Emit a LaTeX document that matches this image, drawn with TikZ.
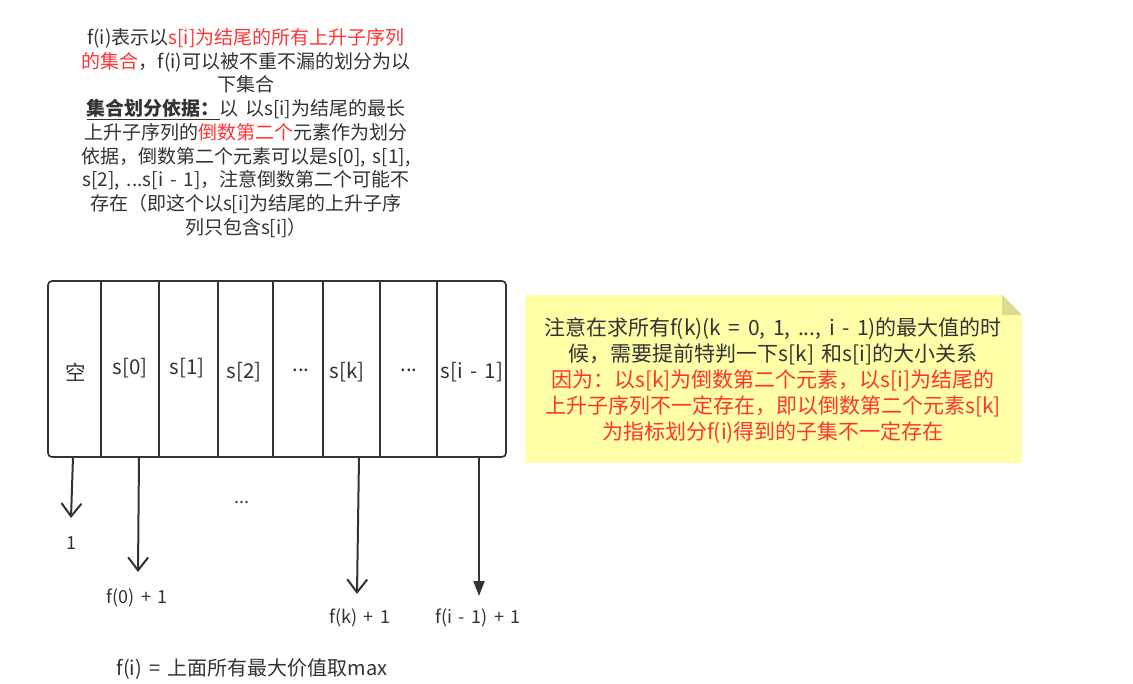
\documentclass[tikz,border=0pt]{standalone}
\usepackage{fontspec}
\setmainfont{Noto Sans CJK SC}[WordSpace=1.6]
\usetikzlibrary{arrows.meta}
\definecolor{txt}{HTML}{333333}
\definecolor{myred}{HTML}{FF3333}
\definecolor{notefill}{HTML}{FFFFA8}
\definecolor{notefold}{HTML}{DCDC8E}
\tikzset{
  boxline/.style={draw=txt, line width=1.7pt},
  celltext/.style={text=txt, font=\fontsize{20.5pt}{24pt}\selectfont, inner sep=0pt, anchor=center},
  lbl/.style={text=txt, font=\fontsize{18pt}{22pt}\selectfont, inner sep=0pt},
  openarrow/.style={draw=txt, line width=2pt, -{Straight Barb[length=13pt,width=20pt]}},
  fillarrow/.style={draw=txt, line width=2pt, -{Triangle[length=15pt,width=11pt]}},
}
\begin{document}
\begin{tikzpicture}[x=1pt,y=-1pt]
\useasboundingbox (0,0) rectangle (1133,684);
\fill[white] (0,0) rectangle (1133,684);

% top description
\node[text=txt, align=center, inner sep=0pt, font=\fontsize{19pt}{23.75pt}\selectfont] (desc) at (246,133) {%
f(i)表示以\textcolor{myred}{s[i]为结尾的所有上升子序列}\\
\textcolor{myred}{的集合}，f(i)可以被不重不漏的划分为以\\
下集合\\
\underline{\textbf{集合划分依据：}}以 以s[i]为结尾的最长\\
上升子序列的\textcolor{myred}{倒数第二个}元素作为划分\\
依据，倒数第二个元素可以是s[0], s[1],\\
s[2], ...s[i - 1]，注意倒数第二个可能不\\
存在（即这个以s[i]为结尾的上升子序\\
列只包含s[i]）};

% array box
\node[boxline, rounded corners=4pt, minimum width=458pt, minimum height=176pt, inner sep=0pt] (arr) at (277,369) {};
\foreach \x in {101,159,218,273,323,380,437}
  \draw[boxline] (\x,281) -- (\x,457);

\node[celltext] (c0) at (76,372) {空};
\node[celltext] (c1) at (130,368) {s[0]};
\node[celltext] (c2) at (187,368) {s[1]};
\node[celltext] (c3) at (244,372) {s[2]};
\node[celltext] (c4) at (301,370) {...};
\node[celltext] (c5) at (347,372) {s[k]};
\node[celltext] (c6) at (409,370) {...};
\node[celltext] (c7) at (472,372) {s[i - 1]};

% arrows
\coordinate (a0s) at (73,457);  \coordinate (a0e) at (71,518);
\coordinate (a1s) at (139,457); \coordinate (a1e) at (138,572);
\coordinate (a2s) at (359,457); \coordinate (a2e) at (357,594);
\coordinate (a3s) at (479,457); \coordinate (a3e) at (479,596);
\draw[openarrow] (a0s) -- (a0e);
\draw[openarrow] (a1s) -- (a1e);
\draw[openarrow] (a2s) -- (a2e);
\draw[fillarrow] (a3s) -- (a3e);

\node[lbl] (l0) at (71,543) {1};
\node[lbl] (l1) at (137,598) {f(0) + 1};
\node[lbl] (l2) at (360,618) {f(k) + 1};
\node[lbl] (l3) at (478,618) {f(i - 1) + 1};
\node[lbl] (ld) at (242,502) {...};

\node[text=txt, inner sep=0pt, font=\fontsize{20pt}{24pt}\selectfont] (res) at (252,669) {f(i) = 上面所有最大价值取max};

% note
\fill[notefill] (525,295) -- (1002,295) -- (1022,315) -- (1022,463) -- (525,463) -- cycle;
\fill[notefold] (1002,295) -- (1022,315) -- (1002,315) -- cycle;
\node[text=txt, align=center, inner sep=0pt, font=\fontsize{21pt}{26pt}\selectfont] (note) at (773,381) {%
注意在求所有f(k)(k = 0, 1, ..., i - 1)的最大值的时\\
候，需要提前特判一下s[k] 和s[i]的大小关系\\
\textcolor{myred}{因为：以s[k]为倒数第二个元素，以s[i]为结尾的}\\
\textcolor{myred}{上升子序列不一定存在，即以倒数第二个元素s[k]}\\
\textcolor{myred}{为指标划分f(i)得到的子集不一定存在}};
\end{tikzpicture}
\end{document}
